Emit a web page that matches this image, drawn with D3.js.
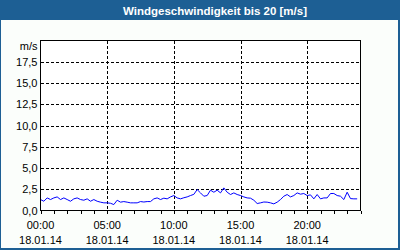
<!DOCTYPE html>
<html>
<head>
<meta charset="utf-8">
<script src="https://cdn.jsdelivr.net/npm/d3@7"></script>
<style>
  body { margin: 0; }
  svg { display: block; }
</style>
</head>
<body>
<div id="chart"></div>
<script>
// chart data
var title = "Windgeschwindigkeit bis 20 [m/s]";
var unitLabel = "m/s";
var dateLabel = "18.01.14";
var majorTicks = ["00:00", "05:00", "10:00", "15:00", "20:00"];
var yTicks = [0, 2.5, 5, 7.5, 10, 12.5, 15, 17.5];

var times = [
  "00:00","00:15","00:30","00:45","01:00","01:15","01:30","01:45",
  "02:00","02:15","02:30","02:45","03:00","03:15","03:30","03:45",
  "04:00","04:15","04:30","04:45","05:00","05:15","05:30","05:45",
  "06:00","06:15","06:30","06:45","07:00","07:15","07:30","07:45",
  "08:00","08:15","08:30","08:45","09:00","09:15","09:30","09:45",
  "10:00","10:15","10:30","10:45","11:00","11:15","11:30","11:45",
  "12:00","12:15","12:30","12:45","13:00","13:15","13:30","13:45",
  "14:00","14:15","14:30","14:45","15:00","15:15","15:30","15:45",
  "16:00","16:15","16:30","16:45","17:00","17:15","17:30","17:45",
  "18:00","18:15","18:30","18:45","19:00","19:15","19:30","19:45",
  "20:00","20:15","20:30","20:45","21:00","21:15","21:30","21:45",
  "22:00","22:15","22:30","22:45","23:00","23:15","23:30","23:45"
];
var speeds = [
  1.29, 1.09, 1.48, 1.29, 1.48, 1.60, 1.29, 1.48,
  1.29, 1.09, 1.37, 1.48, 1.29, 1.21, 1.37, 1.09,
  1.29, 1.09, 0.98, 0.90, 0.90, 0.85, 0.70, 1.21,
  0.98, 1.05, 0.98, 0.90, 0.90, 0.90, 1.05, 1.00,
  1.05, 1.05, 1.37, 1.48, 1.29, 1.45, 1.37, 1.60,
  1.76, 1.48, 1.37, 1.50, 1.60, 1.76, 1.90, 2.46,
  2.07, 1.68, 1.76, 2.39, 2.15, 2.39, 2.07, 2.66,
  2.15, 1.88, 2.07, 1.88, 1.76, 1.60, 1.48, 1.45,
  1.21, 0.82, 0.90, 1.00, 0.98, 0.90, 0.78, 0.98,
  1.29, 1.68, 1.88, 1.60, 1.76, 2.07, 1.92, 2.00,
  1.76, 1.84, 1.37, 1.88, 1.37, 1.48, 1.48, 2.00,
  2.00, 1.76, 1.68, 1.29, 2.15, 1.40, 1.37, 1.37
];

var W = 400, H = 250;
var margin = { top: 40.5, left: 40.5, right: 360.5, bottom: 210.5 };
var font = "'Liberation Sans', Arial, sans-serif";

var parseTime = d3.timeParse("%d.%m.%y %H:%M");
var data = times.map(function(t, i) {
  return { t: parseTime(dateLabel + " " + t), v: speeds[i] };
});

var svg = d3.select("#chart")
  .append("svg")
  .attr("width", W)
  .attr("height", H);

// frame + title bar
svg.append("rect").attr("width", W).attr("height", H).attr("fill", "#1d5f94");
svg.append("rect")
  .attr("x", 1).attr("y", 20)
  .attr("width", W - 3).attr("height", H - 22)
  .attr("fill", "#fbfefb");

svg.append("text")
  .attr("x", 215).attr("y", 14.5)
  .attr("text-anchor", "middle")
  .attr("fill", "#ffffff")
  .style("font-family", font)
  .style("font-size", "11.5px")
  .style("font-weight", "bold")
  .text(title);

var x = d3.scaleTime()
  .domain([parseTime(dateLabel + " 00:00"), d3.timeDay.offset(parseTime(dateLabel + " 00:00"), 1)])
  .range([margin.left, margin.right]);

var y = d3.scaleLinear()
  .domain([0, 20])
  .range([margin.bottom, margin.top]);

// plot background
svg.append("rect")
  .attr("x", margin.left).attr("y", margin.top)
  .attr("width", margin.right - margin.left)
  .attr("height", margin.bottom - margin.top)
  .attr("fill", "#ffffff");

// horizontal grid
svg.append("g")
  .selectAll("line")
  .data(yTicks.filter(function(d) { return d > 0; }))
  .enter()
  .append("line")
    .attr("x1", margin.left).attr("x2", margin.right)
    .attr("y1", function(d) { return Math.round(y(d)) + 0.5; })
    .attr("y2", function(d) { return Math.round(y(d)) + 0.5; })
    .attr("stroke", "#000")
    .attr("stroke-dasharray", "3,2")
    .attr("shape-rendering", "crispEdges");

// vertical grid
var majorDates = majorTicks.map(function(t) { return parseTime(dateLabel + " " + t); });
svg.append("g")
  .selectAll("line")
  .data(majorDates.slice(1))
  .enter()
  .append("line")
    .attr("x1", function(d) { return Math.round(x(d)) + 0.5; })
    .attr("x2", function(d) { return Math.round(x(d)) + 0.5; })
    .attr("y1", margin.top).attr("y2", margin.bottom)
    .attr("stroke", "#000")
    .attr("stroke-dasharray", "3,2")
    .attr("shape-rendering", "crispEdges");

// hourly ticks on x axis
var xAxis = svg.append("g")
  .attr("transform", "translate(0," + margin.bottom + ")")
  .call(d3.axisBottom(x).ticks(d3.timeHour.every(1)).tickSize(3).tickFormat(""));
xAxis.select(".domain").remove();
xAxis.selectAll("line").attr("stroke", "#000").attr("shape-rendering", "crispEdges");

// x labels (time + date)
var xl = svg.append("g")
  .selectAll("text")
  .data(majorDates)
  .enter()
  .append("text")
    .attr("x", function(d) { return x(d); })
    .attr("text-anchor", "middle")
    .style("font-family", font)
    .style("font-size", "11px")
    .attr("fill", "#000");
xl.append("tspan").attr("x", function(d) { return x(d); }).attr("y", 229)
  .text(function(d, i) { return majorTicks[i]; });
xl.append("tspan").attr("x", function(d) { return x(d); }).attr("y", 244)
  .text(dateLabel);

// y labels
svg.append("g")
  .selectAll("text")
  .data(yTicks)
  .enter()
  .append("text")
    .attr("x", 37.5)
    .attr("y", function(d) { return y(d) + 4; })
    .attr("text-anchor", "end")
    .style("font-family", font)
    .style("font-size", "11px")
    .attr("fill", "#000")
    .text(function(d) { return d3.format(".1f")(d).replace(".", ","); });

svg.append("text")
  .attr("x", 37.5).attr("y", 50)
  .attr("text-anchor", "end")
  .style("font-family", font)
  .style("font-size", "11px")
  .text(unitLabel);

// wind line
var line = d3.line()
  .x(function(d) { return x(d.t); })
  .y(function(d) { return y(d.v); });

svg.append("path")
  .datum(data)
  .attr("d", line)
  .attr("fill", "none")
  .attr("stroke", "#0000ff")
  .attr("stroke-width", 1);

// plot frame
svg.append("rect")
  .attr("x", margin.left).attr("y", margin.top)
  .attr("width", margin.right - margin.left)
  .attr("height", margin.bottom - margin.top)
  .attr("fill", "none")
  .attr("stroke", "#000")
  .attr("shape-rendering", "crispEdges");
</script>
</body>
</html>
